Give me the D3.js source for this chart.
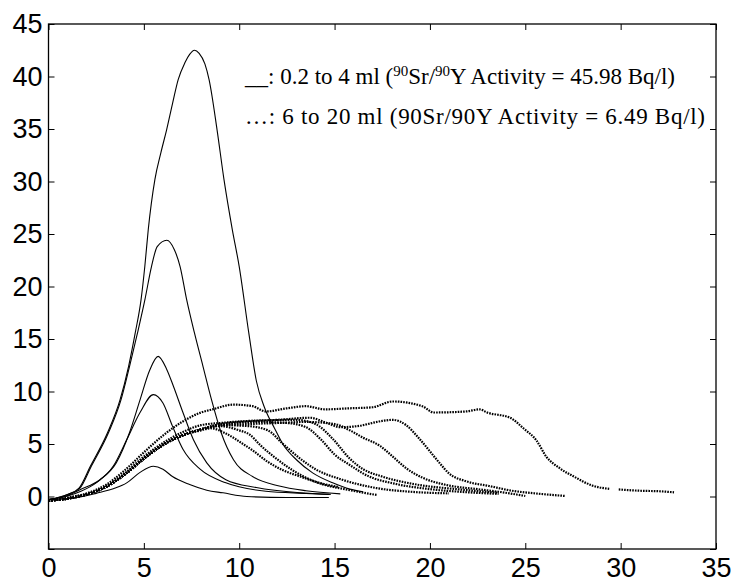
<!DOCTYPE html>
<html>
<head>
<meta charset="utf-8">
<script src="https://cdn.jsdelivr.net/npm/d3@7"></script>
<style>
  body { margin: 0; background: #fff; }
  svg { display: block; }
</style>
</head>
<body>
<div id="chart"></div>
<script>
// axis ticks
var xTicks = [0, 5, 10, 15, 20, 25, 30, 35];
var yTicks = [-5, 0, 5, 10, 15, 20, 25, 30, 35, 40, 45];

// solid curves: 0.2 to 4 ml  ([x, y])
var solid1 = [[0,-0.3],[1,0.2],[1.6,0.8],[2.2,2.9],[3.1,6.1],[3.75,9.2],[4.2,12.4],[4.55,15.6],[4.85,18.7],[5.05,21.9],[5.23,25.4],[5.58,30.2],[5.9,32.8],[6.19,34.9],[6.5,37.4],[6.8,39.7],[7.15,41.3],[7.4,42.1],[7.65,42.5],[7.9,42.2],[8.2,41.2],[8.42,39.7],[8.84,34.9],[9.2,30.2],[9.64,25.4],[10,21.9],[10.5,15.6],[10.9,11],[11.3,8.6],[11.85,6.5],[12.3,4.95],[13,3.5],[13.85,2.25],[14.9,1.3],[15.8,0.7],[16.5,0.45]];
var solid2 = [[0,-0.3],[1,0.2],[1.65,0.8],[2.25,2.9],[3.15,6.1],[3.8,9.2],[4.25,12.4],[4.67,15.6],[5.05,18.7],[5.4,21.9],[5.7,23.8],[6.2,24.4],[6.6,23.5],[6.9,21.9],[7.25,18.7],[7.65,15.6],[8.1,12.4],[8.55,9.2],[9.05,6.1],[9.7,3.5],[10.7,1.9],[12.1,1],[13.5,0.55],[15.3,0.25]];
var solid3 = [[0,-0.3],[1,0.1],[1.65,0.65],[2.7,1.6],[3.55,3.2],[4.25,6.1],[4.8,9.2],[5.3,12],[5.75,13.35],[6.2,12.1],[6.55,10.5],[7.05,8],[7.6,5.4],[8.3,3.2],[9.3,1.6],[10.9,0.85],[13.2,0.35],[14.8,0.2]];
var solid4 = [[0,-0.3],[1,0.05],[1.7,0.5],[2.5,1.3],[3.4,2.9],[4.1,5.4],[4.8,8],[5.5,9.7],[6,8.9],[6.5,6.7],[7.05,4.5],[7.95,2.6],[9.3,1.3],[11.4,0.5],[13.5,0.3],[14.7,0.2]];
var solid5 = [[0,-0.3],[1.5,-0.1],[2.5,0.3],[3.5,0.8],[4.1,1.3],[4.8,2.3],[5.5,2.88],[6,2.6],[6.5,1.9],[7.4,1.14],[8.3,0.6],[9.15,0.35],[10.4,0],[12.5,-0.1],[14.7,-0.1]];

// dotted curves: 6 to 20 ml  (null = gap in the record)
var dot1 = [[0,-0.4],[1,-0.1],[2,0.3],[3,1.1],[4,2.5],[5,4.2],[6,5.8],[7,7.1],[8,8],[8.6,8.3],[9.7,8.75],[10.7,8.6],[11.4,8.1],[12.5,8.4],[13.5,8.6],[14.5,8.3],[15.8,8.4],[17,8.5],[18.05,9.05],[19.6,8.6],[20.2,8],[21.9,8.1],[22.6,8.3],[23,8],[24.2,7.5],[24.9,6.5],[25.6,5.3],[26.1,3.8],[26.8,2.7],[27.65,1.8],[28.5,1.05],[29.4,0.73],null,[29.9,0.67],[31,0.55],[32,0.5],[32.8,0.4]];
var dot2 = [[0,-0.4],[1,-0.2],[2,0.2],[3,0.9],[4,2.2],[5,3.8],[6,5.1],[7,6.1],[8,6.8],[9,7],[10.5,7.2],[12,7.3],[13.7,7.5],[14.6,7],[15.3,6.6],[16.2,6.7],[17.5,7.2],[18.05,7.3],[18.75,6.8],[19.4,5.6],[20,4.3],[20.5,3.2],[21,2.2],[21.9,1.45],[23.1,1],[24.3,0.55],[25.5,0.3],[27.1,0.05]];
var dot3 = [[0,-0.4],[1,-0.2],[2,0.2],[3,0.9],[4,2.1],[5,3.6],[6,4.9],[7,5.8],[8,6.4],[9,6.75],[10.5,6.9],[12,7],[13.5,7.1],[15,6.9],[15.8,6.3],[16.5,5.6],[17.4,4.8],[18.05,3.8],[18.75,2.7],[19.6,1.8],[20.85,1.1],[22.5,0.7],[23.6,0.45],[25,0.05]];
var dot4 = [[0,-0.4],[1,-0.2],[2,0.2],[3,0.9],[4,2.1],[5,3.6],[6,4.9],[7,5.8],[8,6.4],[9,6.9],[11,7.2],[13,7.3],[14,6.9],[14.9,5.5],[15.8,3.6],[16.5,2.6],[17.5,1.9],[19.3,1.14],[21.4,0.7],[23.6,0.35]];
var dot5 = [[0,-0.4],[1,-0.2],[2,0.2],[3,0.9],[4,2.1],[5,3.6],[6,4.9],[7,5.8],[8,6.4],[9,6.8],[11,7.1],[12.5,7],[13.5,6.6],[14.3,5.4],[15,4],[15.8,3],[16.7,2],[18.2,1.2],[20,0.7],[22,0.4],[23.6,0.25]];
var dot6 = [[0,-0.4],[1,-0.2],[2,0.2],[3,0.9],[4,2.1],[5,3.6],[6,4.9],[7,5.8],[8,6.4],[9,6.8],[10.5,6.7],[11.5,6.3],[12.3,5],[13.2,3.6],[14,2.6],[15.4,1.6],[17.2,0.8],[19,0.45],[21,0.3]];
var dot7 = [[0,-0.4],[1,-0.2],[2,0.2],[3,0.9],[4,2.1],[5,3.6],[6,4.9],[7,5.8],[8,6.4],[9,6.7],[10,6.3],[10.55,5.9],[11.1,4.9],[11.95,3.6],[12.8,2.5],[14,1.4],[15.8,0.6],[17.2,0.15]];
var dot8 = [[0,-0.4],[1,-0.2],[2,0.2],[3,0.9],[4,2.1],[5,3.6],[6,4.9],[7,5.8],[8,6.3],[8.5,6.5],[9.3,6],[10.2,5],[10.7,4.4],[11.5,3.3],[12.3,2.5],[13.2,1.9],[14.2,1.3],[15.2,0.9]];

var solidSeries = [solid1, solid2, solid3, solid4, solid5];
var dotSeries = [dot1, dot2, dot3, dot4, dot5, dot6, dot7, dot8];

var width = 739, height = 582;
var margin = ({top: 24, right: 23, bottom: 33, left: 48.5});

var svg = d3.select("#chart")
  .append("svg")
    .attr("width", width)
    .attr("height", height);

var x = d3.scaleLinear()
    .domain([0, 35])
    .range([margin.left, width - margin.right]);
var y = d3.scaleLinear()
    .domain([-5, 45])
    .range([height - margin.bottom, margin.top]);

var tickLen = 6;

var style = g => g
    .call(g => g.select(".domain").remove())
    .call(g => g.selectAll(".tick line").attr("stroke", "#000"))
    .call(g => g.selectAll(".tick text")
      .attr("fill", "#000")
      .style("font-family", "Arial, 'Liberation Sans', Helvetica, sans-serif")
      .style("font-size", "27px"));

// bottom + top
svg.append("g")
    .attr("transform", `translate(0,${y(-5)})`)
    .call(d3.axisBottom(x).tickValues(xTicks).tickSize(-tickLen).tickPadding(9).tickFormat(d3.format("d")))
    .call(style);
svg.append("g")
    .attr("transform", `translate(0,${y(45)})`)
    .call(d3.axisTop(x).tickValues(xTicks).tickSize(-tickLen).tickFormat(""))
    .call(style);

// left + right
svg.append("g")
    .attr("transform", `translate(${x(0)},0)`)
    .call(d3.axisLeft(y).tickValues(yTicks).tickSize(-tickLen).tickPadding(6)
      .tickFormat(d => d < 0 ? "" : d))
    .call(style);
svg.append("g")
    .attr("transform", `translate(${x(35)},0)`)
    .call(d3.axisRight(y).tickValues(yTicks).tickSize(-tickLen).tickFormat(""))
    .call(style);

// frame
svg.append("rect")
    .attr("x", x(0))
    .attr("y", y(45))
    .attr("width", x(35) - x(0))
    .attr("height", y(-5) - y(45))
    .attr("fill", "none")
    .attr("stroke", "#000")
    .attr("stroke-width", 1.3);

var line = d3.line()
    .defined(d => d !== null)
    .curve(d3.curveMonotoneX)
    .x(d => x(d[0]))
    .y(d => y(d[1]));

svg.append("g")
  .selectAll("path")
  .data(dotSeries)
  .join("path")
    .attr("fill", "none")
    .attr("stroke", "#000")
    .attr("stroke-width", 2.2)
    .attr("stroke-dasharray", "1.6,1.1")
    .attr("d", line);

svg.append("g")
  .selectAll("path")
  .data(solidSeries)
  .join("path")
    .attr("fill", "none")
    .attr("stroke", "#000")
    .attr("stroke-width", 1.1)
    .attr("stroke-linejoin", "round")
    .attr("d", line);

// legend text
var legend = svg.append("g")
    .style("font-family", "'Liberation Serif', 'Times New Roman', serif")
    .style("font-size", "23px")
    .attr("fill", "#000");

var l1 = legend.append("text").attr("x", 245).attr("y", 84);
l1.append("tspan").text("__: 0.2 to 4 ml (");
l1.append("tspan").attr("dy", -8).style("font-size", "15px").text("90");
l1.append("tspan").attr("dy", 8).text("Sr/");
l1.append("tspan").attr("dy", -8).style("font-size", "15px").text("90");
l1.append("tspan").attr("dy", 8).text("Y Activity = 45.98 Bq/l)");

legend.append("text")
    .attr("x", 245)
    .attr("y", 124)
    .attr("textLength", 460)
    .attr("lengthAdjust", "spacing")
    .text("…: 6 to 20 ml (90Sr/90Y Activity = 6.49 Bq/l)");
</script>
</body>
</html>
